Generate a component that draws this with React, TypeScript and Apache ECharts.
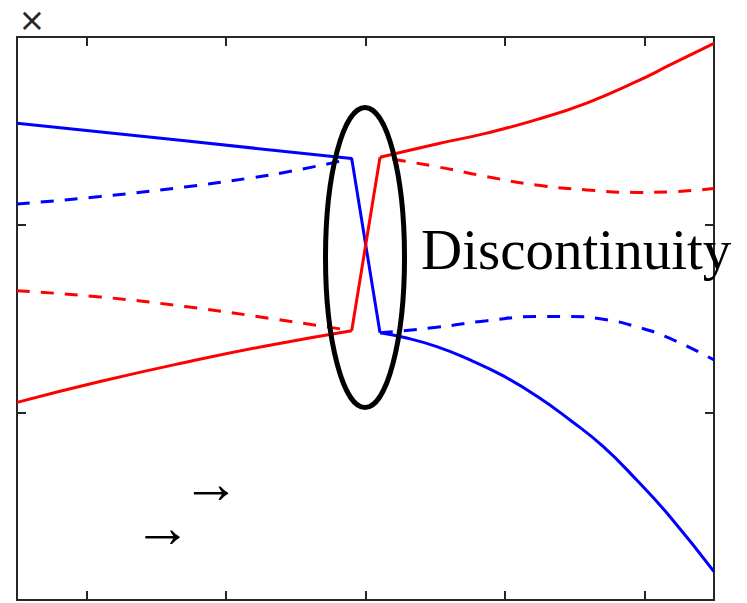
import React, { useEffect, useRef } from "react";
import * as echarts from "echarts";

// Frame tick slots along x (ticks sit at the centre of each slot)
const xTickSlots = ["", "", "", "", ""];

// Blue branch: solid part (left segment + jump), then curved right part
const blueSolidLeft = [
  [0, 2.54], [2.41, 2.447], [4.802, 2.352], [5.208, 1.424],
];
const blueSolidRight = [
  [5.208, 1.424], [5.542, 1.4], [6.022, 1.35], [6.499, 1.279], [6.977, 1.194],
  [7.456, 1.087], [7.934, 0.959], [8.412, 0.817], [8.891, 0.639], [9.369, 0.444],
  [10, 0.151],
];
const blueDashedLeft = [
  [0, 2.11], [1.191, 2.15], [2.41, 2.201], [3.386, 2.251], [4.06, 2.294],
  [4.802, 2.352],
];
const blueDashedRight = [
  [5.208, 1.424], [6.022, 1.453], [6.739, 1.488], [7.456, 1.51], [7.934, 1.51],
  [8.412, 1.496], [8.891, 1.456], [9.369, 1.394], [10, 1.279],
];

// Red branch
const redSolidLeft = [
  [0, 1.053], [1.191, 1.164], [2.41, 1.266], [3.587, 1.355], [4.802, 1.435],
];
const redJump = [
  [4.802, 1.435], [5.208, 2.359],
];
const redSolidRight = [
  [5.208, 2.359], [6.022, 2.43], [6.739, 2.488], [7.456, 2.56], [8.174, 2.648],
  [8.891, 2.763], [9.369, 2.851], [10, 2.966],
];
const redDashedLeft = [
  [0, 1.648], [1.191, 1.615], [2.41, 1.564], [3.587, 1.503], [4.802, 1.435],
];
const redDashedRight = [
  [5.208, 2.359], [6.022, 2.309], [6.739, 2.256], [7.456, 2.211], [8.174, 2.185],
  [8.891, 2.172], [9.369, 2.175], [10, 2.193],
];

const BLUE = "#0000ff";
const RED = "#ff0000";
const FRAME = "#262626";
const DASH = [13, 11];

function line(
  data: number[][],
  color: string,
  dashed: boolean,
  smooth: number,
  dashOffset = 0
) {
  return {
    type: "line",
    xAxisIndex: 0,
    yAxisIndex: 0,
    data,
    smooth,
    showSymbol: false,
    symbol: "none",
    silent: true,
    lineStyle: {
      color,
      width: 3,
      type: dashed ? DASH : "solid",
      dashOffset,
      cap: "butt",
    },
  };
}

function frameAxisX(position: "top" | "bottom") {
  return {
    type: "category",
    data: xTickSlots,
    position,
    boundaryGap: true,
    axisLine: { show: true, lineStyle: { color: FRAME, width: 2 } },
    axisTick: { show: true, alignWithLabel: true, inside: true, length: 9, lineStyle: { color: FRAME, width: 2 } },
    axisLabel: { show: false },
    splitLine: { show: false },
  };
}

function frameAxisY(position: "left" | "right") {
  return {
    type: "value",
    min: 0,
    max: 3,
    interval: 1,
    position,
    axisLine: { show: true, onZero: false, lineStyle: { color: FRAME, width: 2 } },
    axisTick: { show: true, inside: true, length: 9, lineStyle: { color: FRAME, width: 2 } },
    axisLabel: { show: false },
    splitLine: { show: false },
  };
}

export default function App() {
  const ref = useRef<HTMLDivElement>(null);

  useEffect(() => {
    if (!ref.current) return;
    const chart = echarts.init(ref.current, undefined, { renderer: "svg" });
    chart.setOption({
      animation: false,
      backgroundColor: "#ffffff",
      grid: { left: 17, right: 33, top: 37, bottom: 3, containLabel: false },
      xAxis: [
        {
          type: "value",
          min: 0,
          max: 10,
          show: false,
          splitLine: { show: false },
        },
        frameAxisX("bottom"),
        frameAxisX("top"),
      ],
      yAxis: [frameAxisY("left"), frameAxisY("right")],
      series: [
        line(blueDashedLeft, BLUE, true, 0.5),
        line(blueDashedRight, BLUE, true, 0.5),
        line(redDashedLeft, RED, true, 0.5),
        line(redDashedRight, RED, true, 0.5, 11),
        line(blueSolidLeft, BLUE, false, 0),
        line(blueSolidRight, BLUE, false, 0.5),
        line(redSolidLeft, RED, false, 0.5),
        line(redJump, RED, false, 0),
        line(redSolidRight, RED, false, 0.5),
      ],
      graphic: [
        {
          type: "ellipse",
          z: 100,
          shape: { cx: 365, cy: 257.5, rx: 39.5, ry: 150 },
          style: { fill: "none", stroke: "#000000", lineWidth: 5 },
        },
        {
          type: "text",
          z: 100,
          x: 421,
          y: 249,
          style: {
            text: "Discontinuity",
            font: '57px "Liberation Serif"',
            fill: "#000000",
            align: "left",
            verticalAlign: "middle",
          },
        },
        {
          type: "text",
          z: 100,
          x: 32,
          y: 19.5,
          style: {
            text: "×",
            font: '32px "DejaVu Sans"',
            fill: "#262626",
            align: "center",
            verticalAlign: "middle",
          },
        },
        {
          type: "text",
          z: 100,
          x: 211,
          y: 483.6,
          style: {
            text: "→",
            font: '58px "Liberation Serif"',
            fill: "#000000",
            align: "center",
            verticalAlign: "middle",
          },
        },
        {
          type: "text",
          z: 100,
          x: 162.5,
          y: 527,
          style: {
            text: "→",
            font: '58px "Liberation Serif"',
            fill: "#000000",
            align: "center",
            verticalAlign: "middle",
          },
        },
      ],
    });
    return () => chart.dispose();
  }, []);

  return (
    <div
      ref={ref}
      style={{ position: "fixed", left: 0, top: 0, width: 747, height: 603 }}
    />
  );
}
